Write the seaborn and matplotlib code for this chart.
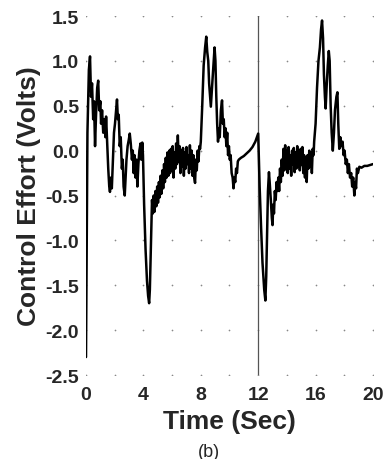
import numpy as np
import pandas as pd
import matplotlib
matplotlib.use("Agg")
import matplotlib.pyplot as plt
import seaborn as sns

# Valores (tempo em s, esforço de controle em V)
tempo = [
    0.00, 0.05, 0.10, 0.20, 0.28, 0.35, 0.42, 0.50, 0.56, 0.63, 0.70, 0.78, 0.85, 0.92, 1.00,
    1.05, 1.12, 1.20, 1.28, 1.35, 1.40, 1.47, 1.55, 1.62, 1.67, 1.74, 1.80, 1.88, 1.95, 2.02,
    2.10, 2.16, 2.22, 2.28, 2.35, 2.42, 2.50, 2.56, 2.62, 2.70, 2.76, 2.82, 2.90, 2.98, 3.05,
    3.12, 3.20, 3.26, 3.32, 3.38, 3.45, 3.52, 3.58, 3.65, 3.72, 3.80, 3.85, 3.92, 3.97, 4.05,
    4.15, 4.25, 4.33, 4.40, 4.45, 4.50, 4.55, 4.60, 4.66,
    4.72, 4.78, 4.84, 4.90, 4.96, 5.02, 5.08, 5.14, 5.20, 5.26, 5.32, 5.38, 5.44, 5.50, 5.56,
    5.62, 5.68, 5.74, 5.80, 5.86, 5.92, 5.98, 6.04, 6.10, 6.16, 6.22, 6.28, 6.34, 6.40, 6.46,
    6.52, 6.58, 6.64, 6.70, 6.76, 6.82, 6.88, 6.94, 7.00, 7.06, 7.12, 7.18, 7.24, 7.30, 7.36,
    7.42, 7.48, 7.54, 7.60, 7.66, 7.72, 7.78, 7.84, 7.90, 7.95,
    8.00, 8.10, 8.20, 8.30, 8.38, 8.45, 8.52, 8.58, 8.65, 8.70, 8.76, 8.82, 8.90, 8.96, 9.02,
    9.08, 9.14, 9.20, 9.26, 9.32, 9.40, 9.48, 9.54, 9.60, 9.66, 9.72, 9.78, 9.84, 9.90, 9.96,
    10.02, 10.08, 10.15, 10.22, 10.28, 10.34, 10.40, 10.46, 10.52, 10.58, 10.65, 10.80, 11.00,
    11.20, 11.40, 11.60, 11.80, 11.95, 12.00,
    12.10, 12.20, 12.30, 12.42, 12.50, 12.56, 12.62, 12.68, 12.75, 12.80, 12.88, 12.95, 13.00,
    13.05, 13.10, 13.16, 13.22, 13.28, 13.34,
    13.40, 13.46, 13.52, 13.58, 13.64, 13.70, 13.76, 13.82, 13.88, 13.94, 14.00, 14.06, 14.12,
    14.18, 14.24, 14.30, 14.36, 14.42, 14.48, 14.54, 14.60, 14.66, 14.72, 14.78, 14.84, 14.90,
    14.96, 15.02, 15.08, 15.14, 15.20, 15.26, 15.32, 15.38, 15.44, 15.50, 15.56, 15.62, 15.68,
    15.74, 15.80, 15.86,
    15.90, 16.00, 16.10, 16.20, 16.30, 16.38, 16.45, 16.52, 16.58, 16.65, 16.70, 16.78, 16.85,
    16.92, 16.98, 17.05, 17.12, 17.20, 17.28, 17.35, 17.45, 17.52, 17.58, 17.65, 17.72, 17.80,
    17.88, 17.95, 18.02, 18.10, 18.18, 18.25, 18.32, 18.40, 18.48, 18.55, 18.62, 18.70, 18.76,
    18.82, 18.88, 18.95, 19.05, 19.20, 19.40, 19.60, 19.80, 20.00,
]
esforco = [
    -2.30, -1.00, 0.20, 0.90, 1.05, 0.60, 0.75, 0.35, 0.55, 0.05, 0.40, 0.70, 0.78, 0.45, 0.55,
    0.30, 0.45, 0.20, 0.35, 0.15, 0.38, 0.10, -0.20, -0.40, -0.46, -0.30, -0.42, -0.10, 0.20, 0.30,
    0.45, 0.57, 0.35, 0.40, 0.05, 0.15, -0.20, -0.10, -0.40, -0.50, -0.30, -0.10, 0.05, 0.12, 0.19,
    0.08, -0.10, 0.00, -0.25, -0.05, -0.30, -0.10, -0.40, -0.15, 0.00, 0.08, -0.10, 0.09, -0.05, -0.60,
    -1.10, -1.45, -1.62, -1.70, -1.55, -1.20, -0.80, -0.55, -0.70,
    -0.50, -0.68, -0.45, -0.62, -0.40, -0.58, -0.35, -0.52, -0.28, -0.48, -0.22, -0.42, -0.15, -0.35, -0.08,
    -0.30, -0.02, -0.28, 0.00, -0.25, 0.02, -0.22, 0.05, -0.30, -0.02, -0.20, 0.08, -0.15, 0.17, -0.12,
    0.05, -0.25, 0.00, -0.18, 0.03, -0.28, -0.02, -0.20, 0.04, -0.15, -0.05, -0.25, 0.06, -0.20, 0.00,
    -0.28, -0.05, -0.30, -0.36, -0.10, -0.22, 0.00, -0.12, 0.05, 0.02,
    0.10, 0.50, 0.95, 1.15, 1.27, 1.10, 1.00, 0.75, 0.60, 0.49, 0.65, 0.80, 1.00, 1.15, 1.00,
    0.60, 0.30, 0.10, 0.25, 0.15, 0.45, 0.56, 0.30, 0.35, 0.15, 0.25, 0.05, 0.20, -0.05, 0.05,
    -0.10, -0.05, -0.25, -0.30, -0.42, -0.30, -0.35, -0.20, -0.25, -0.12, -0.10, -0.08, -0.06,
    -0.03, 0.00, 0.04, 0.10, 0.17, 0.19,
    -0.40, -0.85, -1.25, -1.55, -1.67, -1.40, -0.90, -0.45, -0.24, -0.35, -0.55, -0.75, -0.83,
    -0.60, -0.70, -0.45, -0.55, -0.35, -0.45,
    -0.30, -0.45, -0.20, -0.35, -0.10, -0.28, 0.02, -0.22, 0.06, -0.18, 0.00, -0.25, 0.04,
    -0.20, -0.05, -0.28, 0.00, -0.15, 0.03, -0.24, -0.02, -0.20, 0.05, -0.18, 0.00, -0.22,
    0.02, -0.16, 0.04, -0.25, -0.05, -0.30, -0.08, -0.35, -0.05, -0.20, 0.00, -0.18, -0.02,
    -0.25, 0.02, -0.05,
    0.10, 0.30, 0.70, 1.00, 1.15, 1.35, 1.45, 1.25, 0.85, 0.60, 0.47, 0.75, 0.95,
    1.11, 1.00, 0.50, 0.20, 0.00, 0.20, 0.45, 0.60, 0.65, 0.30, 0.02, 0.15, 0.05,
    0.10, -0.05, 0.00, -0.15, -0.10, -0.25, -0.15, -0.30, -0.25, -0.40, -0.30, -0.50, -0.35,
    -0.42, -0.20, -0.25, -0.18, -0.19, -0.17, -0.17, -0.16, -0.15,
]

xticks_grade = [0, 2, 4, 6, 8, 10, 12, 14, 16, 18, 20]
xticks_rotulo = [0, 4, 8, 12, 16, 20]
yticks = [-2.5, -2.0, -1.5, -1.0, -0.5, 0.0, 0.5, 1.0, 1.5]
yticks_rotulo = ["-2.5", "-2.0", "-1.5", "-1.0", "-0.5", "0.0", "0.5", "1.0", "1.5"]
t_marca = 12

df = pd.DataFrame({"tempo": tempo, "esforco": esforco})

sns.set_style("white")
plt.rcParams["font.family"] = ["Liberation Sans", "DejaVu Sans"]

fig = plt.figure(figsize=(3.86, 4.60), dpi=100)
ax = fig.add_axes([0.2228, 0.1826, 0.7435, 0.7804])

# grade pontilhada (só nas interseções)
gx, gy = np.meshgrid(xticks_grade, yticks)
ax.scatter(gx.ravel(), gy.ravel(), s=1.5, color="#888888", linewidths=0, zorder=1)

ax.axvline(t_marca, color="#555555", linewidth=0.9, zorder=2)
sns.lineplot(data=df, x="tempo", y="esforco", color="black", linewidth=1.8,
             sort=False, estimator=None, ax=ax, zorder=3)

ax.set_xlim(0, 20)
ax.set_ylim(-2.5, 1.5)
ax.set_xticks(xticks_rotulo)
ax.set_xticklabels([str(v) for v in xticks_rotulo])
ax.set_yticks(yticks)
ax.set_yticklabels(yticks_rotulo)
ax.tick_params(length=0, labelsize=14, pad=5)
for lbl in ax.get_xticklabels() + ax.get_yticklabels():
    lbl.set_fontweight("bold")
ax.tick_params(axis="x", pad=8)
for s in ax.spines.values():
    s.set_visible(False)

ax.set_xlabel("Time (Sec)", fontsize=19, fontweight="bold", labelpad=4)
ax.set_ylabel("Control Effort (Volts)", fontsize=19, fontweight="bold", labelpad=3)
fig.text(0.541, 0.017, "(b)", fontsize=13, ha="center", va="center")

fig.savefig("out.png", dpi=100)
